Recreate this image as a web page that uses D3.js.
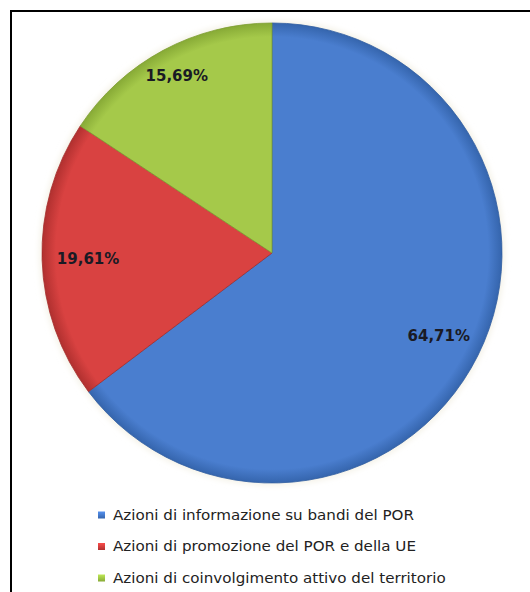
<!DOCTYPE html>
<html>
<head>
<meta charset="utf-8">
<script src="https://cdn.jsdelivr.net/npm/d3@7"></script>
<style>
  html, body { margin: 0; padding: 0; background: #fff; }
  svg { display: block; }
</style>
</head>
<body>
<svg id="chart" width="530" height="592"></svg>
<script>
// Quote di azioni per tipologia
const categories = [
  "Azioni di informazione su bandi del POR",
  "Azioni di promozione del POR e della UE",
  "Azioni di coinvolgimento attivo del territorio"
];
const values = [64.71, 19.61, 15.69];
const valueLabels = ["64,71%", "19,61%", "15,69%"];
const colors = ["#4a7ecf", "#d94241", "#a5c94a"];
const edgeColors = ["#3565ad", "#b0302f", "#87aa36"];

const width = 530, height = 592;
const cx = 272, cy = 253, radius = 230;
// radial position of each value label, as a fraction of the radius
const labelRadius = [0.81, 0.80, 0.875];

const svg = d3.select("#chart");

// frame (runs off the right and bottom edges)
svg.append("rect")
  .attr("x", 11).attr("y", 11)
  .attr("width", width + 20).attr("height", height + 20)
  .attr("fill", "#fff")
  .attr("stroke", "#000").attr("stroke-width", 2);

const defs = svg.append("defs");
colors.forEach((c, i) => {
  const g = defs.append("radialGradient")
    .attr("id", "grad" + i)
    .attr("gradientUnits", "userSpaceOnUse")
    .attr("cx", 0).attr("cy", 0).attr("r", radius);
  g.append("stop").attr("offset", "0%").attr("stop-color", c);
  g.append("stop").attr("offset", "94%").attr("stop-color", c);
  g.append("stop").attr("offset", "100%").attr("stop-color", edgeColors[i]);

  const lg = defs.append("linearGradient")
    .attr("id", "lg" + i).attr("x1", 0).attr("y1", 0).attr("x2", 0).attr("y2", 1);
  lg.append("stop").attr("offset", "0%").attr("stop-color", d3.color(c).brighter(0.4));
  lg.append("stop").attr("offset", "100%").attr("stop-color", edgeColors[i]);
});

const shadow = defs.append("filter").attr("id", "soft")
  .attr("x", "-10%").attr("y", "-10%").attr("width", "120%").attr("height", "120%");
shadow.append("feGaussianBlur").attr("stdDeviation", 3);

const pie = d3.pie().sort(null).value(d => d);
const arcs = pie(values);
const arc = d3.arc().innerRadius(0).outerRadius(radius);

const g = svg.append("g").attr("transform", `translate(${cx},${cy})`);

// faint halo round the pie
g.append("circle")
  .attr("r", radius + 2)
  .attr("fill", "#f3f0e4")
  .attr("filter", "url(#soft)");

g.selectAll("path.slice")
  .data(arcs)
  .join("path")
  .attr("class", "slice")
  .attr("d", arc)
  .attr("fill", (d, i) => `url(#grad${i})`)
  .attr("stroke", (d, i) => d3.color(edgeColors[i]).darker(0.2))
  .attr("stroke-width", 0.8)
  .attr("stroke-linejoin", "round");

g.selectAll("text.val")
  .data(arcs)
  .join("text")
  .attr("class", "val")
  .attr("transform", (d, i) => {
    const [x, y] = d3.arc().innerRadius(0).outerRadius(2 * radius * labelRadius[i]).centroid(d);
    return `translate(${x},${y})`;
  })
  .attr("text-anchor", "middle")
  .attr("dy", "0.36em")
  .attr("font-family", "DejaVu Sans, sans-serif")
  .attr("font-weight", "bold")
  .attr("font-size", 15)
  .attr("fill", "#1a1a24")
  .text((d, i) => valueLabels[i]);

// legend
const legend = svg.append("g").attr("transform", "translate(98,515)");
const rowH = 31.5;
const items = legend.selectAll("g")
  .data(categories)
  .join("g")
  .attr("transform", (d, i) => `translate(0,${i * rowH})`);
items.append("rect")
  .attr("x", 0).attr("y", -3.5)
  .attr("width", 7).attr("height", 7)
  .attr("fill", (d, i) => `url(#lg${i})`);
items.append("text")
  .attr("transform", "translate(15,0) scale(1.12,1)")
  .attr("dy", "0.35em")
  .attr("font-family", "DejaVu Sans, sans-serif")
  .attr("font-size", 13.5)
  .attr("fill", "#222")
  .text(d => d);
</script>
</body>
</html>
